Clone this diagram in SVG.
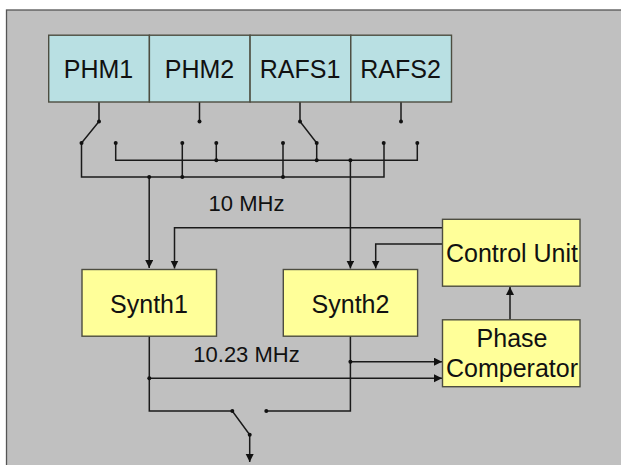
<svg xmlns="http://www.w3.org/2000/svg" width="621" height="465" viewBox="0 0 621 465">
<defs>
<style>
text{font-family:"Liberation Sans",Arial,sans-serif;fill:#111;text-anchor:middle}
.b{stroke:#4d4d40;stroke-width:1.4}
.t{font-size:25px}
.s{font-size:22px}
.l{fill:none;stroke:#1a1a1a;stroke-width:1.5}
.d{fill:#111}
</style>
<marker id="a" markerUnits="userSpaceOnUse" markerWidth="10" markerHeight="10" refX="8" refY="4" orient="auto"><path d="M0 0L8 4L0 8Z" fill="#111"/></marker>
</defs>
<rect width="621" height="465" fill="#fff"/>
<rect x="6.5" y="10" width="620" height="460" fill="#c0c0c0" stroke="#555" stroke-width="1.3"/>
<g id="connectors">
<path class="l" d="M99 102V121.500L81.500 143V177H384V143M199.500 102V121.500M300 102V121.500L316.700 143V160M401 102V121.500M115.700 143V160.300H417.300V143M182.300 143V177M216.300 143V160M283 143V177"/>
<path class="l" d="M149.200 177V268" marker-end="url(#a)"/>
<path class="l" d="M350.400 160.300V268.500" marker-end="url(#a)"/>
<path class="l" d="M442 227.700H174.500V268.500" marker-end="url(#a)"/>
<path class="l" d="M442 244H375.700V268.500" marker-end="url(#a)"/>
<path class="l" d="M510 319.500V287" marker-end="url(#a)"/>
<path class="l" d="M350.400 361.700H442" marker-end="url(#a)"/>
<path class="l" d="M149.300 378.300H442" marker-end="url(#a)"/>
<path class="l" d="M149.300 336V411H232.300L249.700 434.700V462" marker-end="url(#a)"/>
<path class="l" d="M266.300 411H350.400V336"/>
<g class="d">
<circle cx="99" cy="121.500" r="2"/><circle cx="199.500" cy="121.500" r="2"/><circle cx="300" cy="121.500" r="2"/><circle cx="401" cy="121.500" r="2"/>
<circle cx="81.500" cy="143" r="2"/><circle cx="115.700" cy="143" r="2"/><circle cx="182.300" cy="143" r="2"/><circle cx="216.300" cy="143" r="2"/><circle cx="283" cy="143" r="2"/><circle cx="316.700" cy="143" r="2"/><circle cx="383.700" cy="143" r="2"/><circle cx="417.300" cy="143" r="2"/>
<circle cx="216.300" cy="160.300" r="2"/><circle cx="316.700" cy="160.300" r="2"/><circle cx="350.400" cy="160.300" r="2"/>
<circle cx="149.200" cy="177" r="2"/><circle cx="182.300" cy="177" r="2"/><circle cx="283" cy="177" r="2"/>
<circle cx="350.400" cy="361.700" r="2"/><circle cx="149.300" cy="378.300" r="2"/><circle cx="232.300" cy="411" r="2"/><circle cx="266.300" cy="411" r="2"/><circle cx="249.700" cy="434.700" r="2"/>
</g>
</g>
<g id="phm1"><rect class="b" x="48.700" y="35.200" width="100.700" height="66.800" fill="#b9e0e3"/><text class="t" x="98.500" y="78">PHM1</text></g>
<g id="phm2"><rect class="b" x="149.400" y="35.200" width="100.700" height="66.800" fill="#b9e0e3"/><text class="t" x="199.500" y="78">PHM2</text></g>
<g id="rafs1"><rect class="b" x="250.100" y="35.200" width="100.700" height="66.800" fill="#b9e0e3"/><text class="t" x="300" y="78">RAFS1</text></g>
<g id="rafs2"><rect class="b" x="350.800" y="35.200" width="100.700" height="66.800" fill="#b9e0e3"/><text class="t" x="400.500" y="78">RAFS2</text></g>
<g id="synth1"><rect class="b" x="82" y="269.500" width="134.500" height="66.700" fill="#ffff99"/><text class="t" x="149" y="312.500">Synth1</text></g>
<g id="synth2"><rect class="b" x="283.300" y="269.500" width="134.300" height="66.700" fill="#ffff99"/><text class="t" x="350.500" y="312.500">Synth2</text></g>
<g id="control"><rect class="b" x="442.500" y="219.300" width="137.500" height="66.900" fill="#ffff99"/><text class="t" x="512" y="261.700">Control Unit</text></g>
<g id="phase"><rect class="b" x="442.500" y="319.800" width="137.500" height="66.900" fill="#ffff99"/><text class="t" x="512" y="347">Phase</text><text class="t" x="512" y="377">Comperator</text></g>
<text class="s" x="246.500" y="211">10 MHz</text>
<text class="s" x="246.500" y="361.500">10.23 MHz</text>
</svg>
